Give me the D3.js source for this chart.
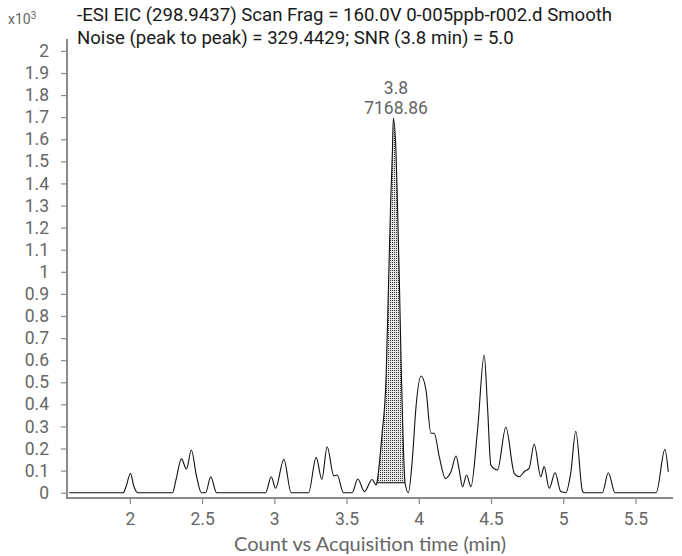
<!DOCTYPE html>
<html>
<head>
<meta charset="utf-8">
<script src="https://cdn.jsdelivr.net/npm/d3@7"></script>
<style>
  body { margin: 0; background: #fff; }
  svg text { font-family: Roboto, "Noto Sans", sans-serif; }
</style>
</head>
<body>
<div id="chart"></div>
<script>
const WIDTH = 682
const HEIGHT = 556

// acquisition time (min) and counts
const times = [1.58, 1.955, 1.975, 2.005, 2.025, 2.055,
  2.295, 2.32, 2.357, 2.392, 2.426, 2.46, 2.495,
  2.525, 2.56, 2.6,
  2.94, 2.979, 3.009, 3.066, 3.117,
  3.237, 3.29, 3.329, 3.366, 3.412, 3.435, 3.479,
  3.539, 3.578, 3.624, 3.677, 3.705, 3.71,
  3.745, 3.774, 3.791, 3.806, 3.818, 3.824, 3.842, 3.852, 3.866, 3.88, 3.89, 3.905,
  3.928, 3.957, 3.981, 4.016, 4.05, 4.084, 4.107, 4.142, 4.184, 4.223, 4.258, 4.28,
  4.303, 4.331, 4.361, 4.407, 4.453, 4.476, 4.499, 4.545, 4.603, 4.661, 4.695,
  4.73, 4.764, 4.799, 4.845, 4.868, 4.903, 4.944, 4.983, 5.018, 5.052, 5.087,
  5.133, 5.145, 5.271, 5.312, 5.359, 5.644, 5.704, 5.727]
const counts = [0, 0, 30, 88, 35, 0,
  0, 60, 153, 107, 193, 80, 0,
  0, 72, 0,
  0, 72, 20, 151, 0,
  0, 160, 60, 208, 76, 80, 0,
  0, 62, 5, 60, 35, 45,
  260, 525, 950, 1325, 1550, 1695, 1550, 1325, 950, 525, 284, 45,
  0, 163, 389, 528, 465, 269, 269, 163, 65, 95, 166, 103,
  27, 80, 27, 284, 623, 389, 125, 103, 296, 88, 72,
  95, 110, 219, 72, 118, 20, 90, 5, 0, 89, 278,
  8, 0, 0, 90, 0, 0, 196, 95]

// integrated peak
const peakStart = 3.71
const peakEnd = 3.905
const peakBase = 45
const peakTime = "3.8"
const peakArea = "7168.86"

const yTicks = [0, 0.1, 0.2, 0.3, 0.4, 0.5, 0.6, 0.7, 0.8, 0.9, 1, 1.1, 1.2, 1.3, 1.4, 1.5, 1.6, 1.7, 1.8, 1.9, 2]
const xTicks = [2, 2.5, 3, 3.5, 4, 4.5, 5, 5.5]

const titleLines = ["-ESI EIC (298.9437) Scan Frag = 160.0V 0-005ppb-r002.d Smooth",
  "Noise (peak to peak) = 329.4429; SNR (3.8 min) = 5.0"]
const xTitle = "Count vs Acquisition time (min)"

const data = times.map((t, i) => ({t: t, v: counts[i]}))

const svg = d3.select('#chart').append('svg')
    .attr('width', WIDTH)
    .attr('height', HEIGHT)

const x = d3.scaleLinear().domain([1.565, 5.76]).range([67, 673])
const y = d3.scaleLinear().domain([0, 2000]).range([492.7, 50.9])

const axisColor = '#8a8a8a'
const labelColor = '#666'

// pattern for the integrated area
const pat = svg.append('defs').append('pattern')
    .attr('id', 'dots')
    .attr('width', 2).attr('height', 2)
    .attr('patternUnits', 'userSpaceOnUse')
pat.append('rect').attr('width', 2).attr('height', 2).attr('fill', '#e6e6e6')
pat.append('rect').attr('width', 1).attr('height', 1).attr('fill', '#333')

const curve = d3.curveMonotoneX

// filled peak between trace and baseline
const peakData = data.filter(d => d.t >= peakStart && d.t <= peakEnd)
svg.append('path')
    .datum(peakData)
    .attr('fill', 'url(#dots)')
    .attr('d', d3.area().curve(curve).x(d => x(d.t)).y0(y(peakBase)).y1(d => y(d.v)))

svg.append('line')
    .attr('x1', x(peakStart)).attr('x2', x(peakEnd))
    .attr('y1', y(peakBase)).attr('y2', y(peakBase))
    .attr('stroke', '#111').attr('stroke-width', 1)

// the trace
svg.append('path')
    .datum(data)
    .attr('fill', 'none')
    .attr('stroke', '#111')
    .attr('stroke-width', 1.1)
    .attr('d', d3.line().curve(curve).x(d => x(d.t)).y(d => y(d.v)))

// axes
const yAxis = svg.append('g')
    .attr('transform', 'translate(67,0)')
    .call(d3.axisLeft(y).tickValues(yTicks.map(v => v * 1000)).tickSize(6).tickPadding(12)
        .tickFormat(v => d3.format('~g')(v / 1000)))
yAxis.select('.domain').remove()

const xAxis = svg.append('g')
    .attr('transform', 'translate(0,498)')
    .call(d3.axisBottom(x).tickValues(xTicks).tickSize(6).tickPadding(9).tickFormat(d3.format('~g')))
xAxis.select('.domain').remove()

svg.selectAll('.tick line').attr('stroke', axisColor).attr('stroke-width', 1.2)
svg.selectAll('.tick text').attr('fill', labelColor).style('font-size', '17.5px')

svg.append('line').attr('x1', 67).attr('x2', 67).attr('y1', 39).attr('y2', 498)
    .attr('stroke', axisColor).attr('stroke-width', 2)
svg.append('line').attr('x1', 66).attr('x2', 673).attr('y1', 498).attr('y2', 498)
    .attr('stroke', axisColor).attr('stroke-width', 2)

// titles
svg.append('text')
    .attr('x', 8).attr('y', 24)
    .attr('fill', labelColor)
    .style('font-size', '14px')
    .text('x10')
  .append('tspan')
    .attr('dy', -5)
    .style('font-size', '10px')
    .text('3')

titleLines.forEach((s, i) => {
  svg.append('text')
      .attr('x', 77).attr('y', 21 + i * 22.5)
      .attr('fill', '#1a1a1a')
      .style('font-size', '18.6px')
      .text(s)
})

svg.append('text')
    .attr('x', 396).attr('y', 94)
    .attr('text-anchor', 'middle')
    .attr('fill', labelColor)
    .style('font-size', '17.5px')
    .text(peakTime)
svg.append('text')
    .attr('x', 396).attr('y', 114)
    .attr('text-anchor', 'middle')
    .attr('fill', labelColor)
    .style('font-size', '17.5px')
    .text(peakArea)

svg.append('text')
    .attr('x', 370).attr('y', 551)
    .attr('text-anchor', 'middle')
    .attr('fill', labelColor)
    .style('font-family', 'Lato, sans-serif')
    .style('font-size', '20px')
    .text(xTitle)
</script>
</body>
</html>
